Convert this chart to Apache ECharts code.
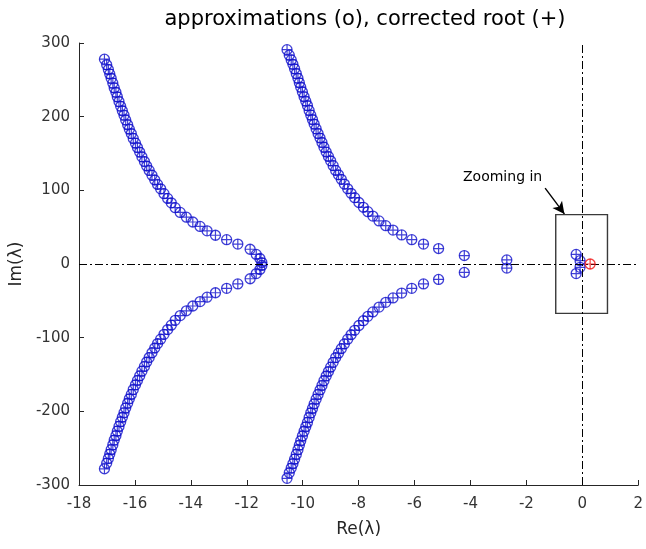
<!DOCTYPE html>
<html>
<head>
<meta charset="utf-8">
<script src="https://cdn.jsdelivr.net/npm/echarts@6/dist/echarts.min.js"></script>
<style>
  html, body { margin: 0; padding: 0; background: #fff; }
  #chart { width: 646px; height: 549px; }
</style>
</head>
<body>
<div id="chart"></div>
<script>
// upper half of each branch (the lower half is the complex conjugate)
const branch1Re = [-11.46, -11.53, -11.66, -11.88, -12.32, -12.72, -13.12, -13.42, -13.67, -13.93,
  -14.16, -14.38, -14.56, -14.70, -14.83, -14.96, -15.08, -15.19, -15.29, -15.39,
  -15.49, -15.58, -15.66, -15.75, -15.83, -15.91, -15.98, -16.06, -16.13, -16.20,
  -16.26, -16.33, -16.39, -16.45, -16.51, -16.57, -16.63, -16.68, -16.74, -16.79,
  -16.85, -16.90, -16.95, -17.01, -17.09];
const branch1Im = [2, 7.5, 13, 20, 27, 33, 39, 45, 51, 57,
  63.5, 70, 76.5, 83, 89, 95.5, 102, 108, 114, 120.5,
  127, 133, 139, 145.5, 152, 158, 164, 170.5, 177, 183,
  189, 195.5, 202, 208, 214, 220.5, 227, 233, 239, 245.5,
  252, 258, 264, 270.5, 278];

const branch2Re = [-0.08, -0.22, -2.70, -4.22, -5.14, -5.68, -6.10, -6.46, -6.77, -7.03, -7.27,
  -7.49, -7.67, -7.83, -7.99, -8.14, -8.27, -8.39, -8.51, -8.62, -8.72,
  -8.82, -8.91, -9.00, -9.08, -9.16, -9.24, -9.31, -9.38, -9.45, -9.52,
  -9.59, -9.65, -9.71, -9.77, -9.83, -9.89, -9.95, -10.01, -10.07, -10.12,
  -10.17, -10.23, -10.29, -10.35, -10.41, -10.48, -10.56];
const branch2Im = [4.5, 13, 5.5, 11.5, 21, 27, 33, 39.5, 46, 52, 58.5,
  65, 71, 77, 83.5, 90, 96, 102, 108.5, 115, 121,
  127, 133.5, 140, 146, 152, 158.5, 165, 171, 177, 183.5,
  190, 196, 202, 208.5, 215, 221, 227, 233.5, 240, 246,
  252, 258.5, 265, 271, 277, 283.5, 291];

const correctedRe = [0.28];
const correctedIm = [0];

const xTicks = { min: -18, max: 2, step: 2 };
const yTicks = { min: -300, max: 300, step: 100 };

// annotation: zoom box, arrow and its label
const zoomBox = [[-0.95, -67], [0.9, 67]];
const arrowFrom = [-1.33, 103];
const arrowTo = [-0.64, 68];
const noteAt = [-2.85, 117];

const approx = [];
[[branch1Re, branch1Im], [branch2Re, branch2Im]].forEach(function (b) {
  for (let i = 0; i < b[0].length; i++) {
    approx.push([b[0][i], b[1][i]]);
    approx.push([b[0][i], -b[1][i]]);
  }
});
const corrected = correctedRe.map(function (v, i) { return [v, correctedIm[i]]; });

const blue = '#1212cc';
const red = '#f01010';
const plus = 'path://M0,5L10,5M5,0L5,10';
const font = 'DejaVu Sans, sans-serif';
const dashDot = [8, 3, 2, 3];

function ring(data, color, z) {
  return {
    type: 'scatter', data: data, symbol: 'circle', symbolSize: 10, z: z,
    itemStyle: { color: 'rgba(0,0,0,0)', borderColor: color, borderWidth: 1.3 },
    emphasis: { disabled: true }
  };
}
function cross(data, color, z) {
  return {
    type: 'scatter', data: data, symbol: plus, symbolSize: 10, z: z,
    itemStyle: { color: 'rgba(0,0,0,0)', borderColor: color, borderWidth: 1.2 },
    emphasis: { disabled: true }
  };
}

const axisStyle = { color: '#262626', width: 1 };

const option = {
  animation: false,
  backgroundColor: '#fff',
  title: {
    text: 'approximations (o), corrected root (+)',
    left: 360, top: 4, textAlign: 'center',
    textStyle: { fontFamily: font, fontSize: 21, fontWeight: 'normal', color: '#000' }
  },
  grid: { left: 79, right: 4, top: 43, bottom: 64 },
  xAxis: {
    type: 'value', min: xTicks.min, max: xTicks.max, interval: xTicks.step,
    name: 'Re(λ)', nameLocation: 'middle', nameGap: 36,
    nameTextStyle: { fontFamily: font, fontSize: 17, color: '#262626' },
    axisLine: { show: true, onZero: false, lineStyle: axisStyle },
    axisTick: { show: true, inside: true, length: 5, lineStyle: axisStyle },
    axisLabel: { fontFamily: font, fontSize: 15, color: '#333', margin: 12 },
    splitLine: { show: false }
  },
  yAxis: {
    type: 'value', min: yTicks.min, max: yTicks.max, interval: yTicks.step,
    name: 'Im(λ)', nameLocation: 'middle', nameGap: 52, nameRotate: 90,
    nameTextStyle: { fontFamily: font, fontSize: 17, color: '#262626' },
    axisLine: { show: true, onZero: false, lineStyle: axisStyle },
    axisTick: { show: true, inside: true, length: 5, lineStyle: axisStyle },
    axisLabel: { fontFamily: font, fontSize: 15, color: '#333', margin: 9 },
    splitLine: { show: false }
  },
  series: [
    {
      type: 'scatter', data: [], z: 1,
      markLine: {
        silent: true, symbol: 'none', label: { show: false },
        lineStyle: { color: '#000', width: 1, type: dashDot },
        data: [{ yAxis: 0 }, { xAxis: 0 }]
      },
      markArea: {
        silent: true,
        itemStyle: { color: 'rgba(0,0,0,0)', borderColor: '#3a3a3a', borderWidth: 1.4 },
        data: [[{ coord: zoomBox[0] }, { coord: zoomBox[1] }]]
      }
    },
    {
      type: 'scatter', data: [], z: 1,
      markLine: {
        silent: true, symbol: ['none', 'arrow'], symbolSize: [9, 12], label: { show: false },
        lineStyle: { color: '#000', width: 1.4, type: 'solid' },
        data: [[{ coord: arrowFrom }, { coord: arrowTo }]]
      },
      markPoint: {
        silent: true,
        data: [{
          coord: noteAt, symbol: 'circle', symbolSize: 0,
          label: { show: true, position: 'inside', formatter: 'Zooming in',
            fontFamily: font, fontSize: 14, color: '#000' }
        }]
      }
    },
    ring(approx, blue, 3),
    cross(approx, blue, 4),
    ring(corrected, red, 5),
    cross(corrected, red, 6)
  ]
};

const chart = echarts.init(document.getElementById('chart'), null, { renderer: 'canvas' });
chart.setOption(option);
</script>
</body>
</html>
